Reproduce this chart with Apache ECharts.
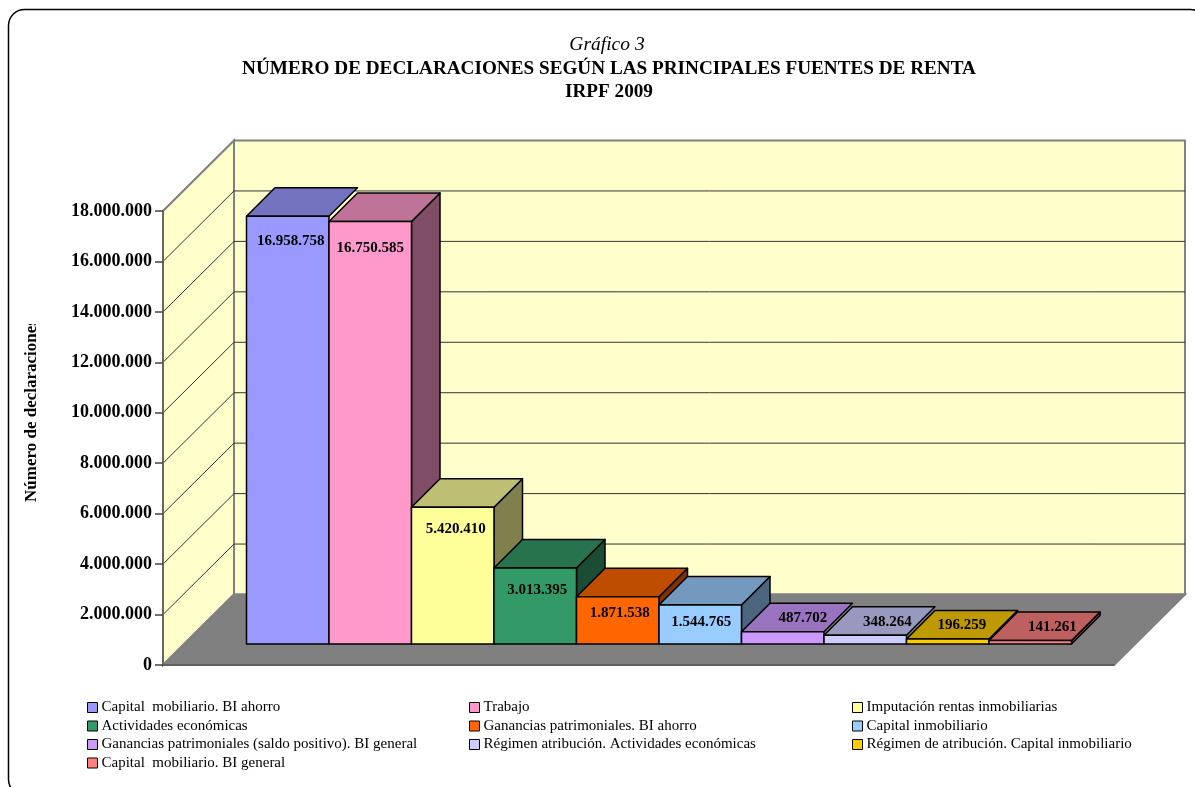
<!DOCTYPE html>
<html>
<head>
<meta charset="utf-8">
<title>Gráfico 3</title>
<script src="https://cdn.jsdelivr.net/npm/echarts@6/dist/echarts.min.js"></script>
<style>
  html, body { margin: 0; padding: 0; background: #fff; }
  #main { width: 1195px; height: 787px; }
</style>
</head>
<body>
<div id="main"></div>
<script>
const categories = [
  'Capital  mobiliario. BI ahorro',
  'Trabajo',
  'Imputación rentas inmobiliarias',
  'Actividades económicas',
  'Ganancias patrimoniales. BI ahorro',
  'Capital inmobiliario',
  'Ganancias patrimoniales (saldo positivo). BI general',
  'Régimen atribución. Actividades económicas',
  'Régimen de atribución. Capital inmobiliario',
  'Capital  mobiliario. BI general'
];
const values = [16958758, 16750585, 5420410, 3013395, 1871538, 1544765, 487702, 348264, 196259, 141261];
const yTicks = [0, 2000000, 4000000, 6000000, 8000000, 10000000, 12000000, 14000000, 16000000, 18000000];

const colors = ['#9999FF', '#FF99CC', '#FFFF99', '#339966', '#FF6600', '#99CCFF', '#CC99FF', '#CCCCFF', '#FFCC00', '#FF8080'];
// where each value label sits, relative to the top centre of the bar front
const labelShift = [[3, 25], [0, 27], [3, 22], [2, 22], [2, 16], [1, 17], [20, -14], [22, -13], [14, -14], [22, -13]];
// bars whose side face does not show in the original
const noSide = [0, 6, 7];

const FONT = '"Liberation Serif", "Times New Roman", serif';
const WALL = [71, -70.5];
const BAR = [28.5, -28.5];

function dots(v) {
  return String(v).replace(/\B(?=(\d{3})+(?!\d))/g, '.');
}

// multiply a hex colour, for the shaded faces
function shade(hex, f) {
  const n = parseInt(hex.slice(1), 16);
  const c = [n >> 16, (n >> 8) & 255, n & 255].map(function (x) { return Math.round(x * f); });
  return 'rgb(' + c.join(',') + ')';
}

function renderWalls(params, api) {
  const g = params.coordSys;
  const y0 = api.coord([0, 0])[1];
  const yt = api.coord([0, yTicks[yTicks.length - 1]])[1];
  const x = g.x, r = g.x + g.width;
  const dx = WALL[0], dy = WALL[1];
  const edge = { stroke: '#808080', lineWidth: 2 };
  return {
    type: 'group',
    children: [
      { type: 'polygon', shape: { points: [[x, y0], [x, yt], [x + dx, yt + dy], [x + dx, y0 + dy]] }, style: Object.assign({ fill: '#FFFFCC' }, edge) },
      { type: 'polygon', shape: { points: [[x + dx, y0 + dy], [x + dx, yt + dy], [r + dx, yt + dy], [r + dx, y0 + dy]] }, style: Object.assign({ fill: '#FFFFCC' }, edge) },
      { type: 'polygon', shape: { points: [[x, y0], [r, y0], [r + dx, y0 + dy], [x + dx, y0 + dy]] }, style: Object.assign({ fill: '#808080' }, edge) }
    ]
  };
}

function renderGrid(params, api) {
  const g = params.coordSys;
  const y = api.coord([0, api.value(1)])[1];
  return {
    type: 'polyline',
    shape: { points: [[g.x, y], [g.x + WALL[0], y + WALL[1]], [g.x + g.width + WALL[0], y + WALL[1]]] },
    style: { stroke: '#333', lineWidth: 1, fill: null }
  };
}

function makeBar(i) {
  return function (params, api) {
    const top = api.coord([i, api.value(1)]);
    const base = api.coord([i, 0]);
    const w = api.size([1, 0])[0];
    const l = top[0] - w / 2, r = top[0] + w / 2;
    const t = top[1], b = base[1];
    const dx = BAR[0], dy = BAR[1];
    const line = { stroke: '#000', lineWidth: 1.5, lineJoin: 'round' };
    const children = [];
    if (noSide.indexOf(i) < 0) {
      children.push({ type: 'polygon', shape: { points: [[r, b], [r, t], [r + dx, t + dy], [r + dx, b + dy]] }, style: Object.assign({ fill: shade(colors[i], 0.5) }, line) });
    }
    children.push({ type: 'polygon', shape: { points: [[l, t], [l + dx, t + dy], [r + dx, t + dy], [r, t]] }, style: Object.assign({ fill: shade(colors[i], 0.75) }, line) });
    children.push({ type: 'rect', shape: { x: l, y: t, width: r - l, height: b - t }, style: Object.assign({ fill: colors[i] }, line) });
    children.push({
      type: 'text',
      z2: 10,
      style: {
        x: top[0] + labelShift[i][0],
        y: t + labelShift[i][1],
        text: dots(api.value(1)),
        align: 'center',
        verticalAlign: 'middle',
        fill: '#000',
        font: 'bold 15px ' + FONT
      }
    });
    return { type: 'group', children: children };
  };
}

function legendColumn(left, names) {
  return {
    data: names,
    orient: 'vertical',
    left: left,
    top: 700,
    itemWidth: 10,
    itemHeight: 10,
    itemGap: 3.5,
    icon: 'rect',
    selectedMode: false,
    padding: 0,
    itemStyle: { borderColor: '#000', borderWidth: 1 },
    textStyle: { fontFamily: FONT, fontSize: 15, color: '#000', padding: [0, 0, 0, -1] }
  };
}

const barSeries = categories.map(function (name, i) {
  return {
    type: 'custom',
    name: name,
    xAxisIndex: 1,
    yAxisIndex: 1,
    z: 3,
    itemStyle: { color: colors[i] },
    data: [[i, values[i]]],
    renderItem: makeBar(i)
  };
});

const chart = echarts.init(document.getElementById('main'), null, { renderer: 'canvas' });
chart.setOption({
  animation: false,
  backgroundColor: '#fff',
  title: [
    { text: 'Gráfico 3', left: 602, top: 30, textAlign: 'center', textStyle: { fontFamily: FONT, fontSize: 19.5, fontStyle: 'italic', fontWeight: 'normal', color: '#000' } },
    { text: 'NÚMERO DE DECLARACIONES SEGÚN LAS PRINCIPALES FUENTES DE RENTA', left: 604, top: 55, textAlign: 'center', textStyle: { fontFamily: FONT, fontSize: 19.2, fontWeight: 'bold', color: '#000' } },
    { text: 'IRPF 2009', left: 604, top: 78, textAlign: 'center', textStyle: { fontFamily: FONT, fontSize: 19.2, fontWeight: 'bold', color: '#000' } }
  ],
  legend: [
    legendColumn(87, [categories[0], categories[3], categories[6], categories[9]]),
    legendColumn(469, [categories[1], categories[4], categories[7]]),
    legendColumn(852, [categories[2], categories[5], categories[8]])
  ],
  grid: [
    { left: 163, right: 81, top: 211, bottom: 122 },
    { left: 246.5, width: 825, top: 190, height: 454 }
  ],
  xAxis: [
    {
      type: 'category',
      data: categories,
      z: 5,
      axisLine: { show: true, lineStyle: { color: '#555', width: 1.5 } },
      axisTick: { show: false },
      axisLabel: { show: false }
    },
    { type: 'category', gridIndex: 1, data: categories, show: false }
  ],
  yAxis: [
    {
      type: 'value',
      min: yTicks[0],
      max: yTicks[yTicks.length - 1],
      interval: yTicks[1] - yTicks[0],
      z: 5,
      axisLine: { show: true, lineStyle: { color: '#666', width: 2 } },
      axisTick: { show: true, length: 8, lineStyle: { color: '#444', width: 1.5 } },
      splitLine: { show: false },
      axisLabel: {
        margin: 11,
        fontFamily: FONT,
        fontSize: 18,
        fontWeight: 'bold',
        color: '#000',
        formatter: dots
      }
    },
    { type: 'value', gridIndex: 1, min: yTicks[0], max: yTicks[yTicks.length - 1], show: false }
  ],
  graphic: [
    { type: 'rect', silent: true, z: 0, shape: { x: 8.5, y: 9.5, width: 1198, height: 786, r: 16 }, style: { fill: null, stroke: '#000', lineWidth: 1.5 } },
    { type: 'text', silent: true, z: 1, x: 32, y: 502, rotation: Math.PI / 2, style: { text: 'Número de declaraciones', font: 'bold 17px ' + FONT, fill: '#000', align: 'left', verticalAlign: 'middle' } },
    { type: 'rect', silent: true, z: 2, shape: { x: 20, y: 290, width: 24, height: 34 }, style: { fill: '#fff' } }
  ],
  series: [
    { type: 'custom', z: 1, silent: true, data: [[0, 0]], renderItem: renderWalls },
    { type: 'custom', z: 2, silent: true, data: yTicks.slice(1, -1).map(function (t) { return [0, t]; }), renderItem: renderGrid }
  ].concat(barSeries)
});
</script>
</body>
</html>
